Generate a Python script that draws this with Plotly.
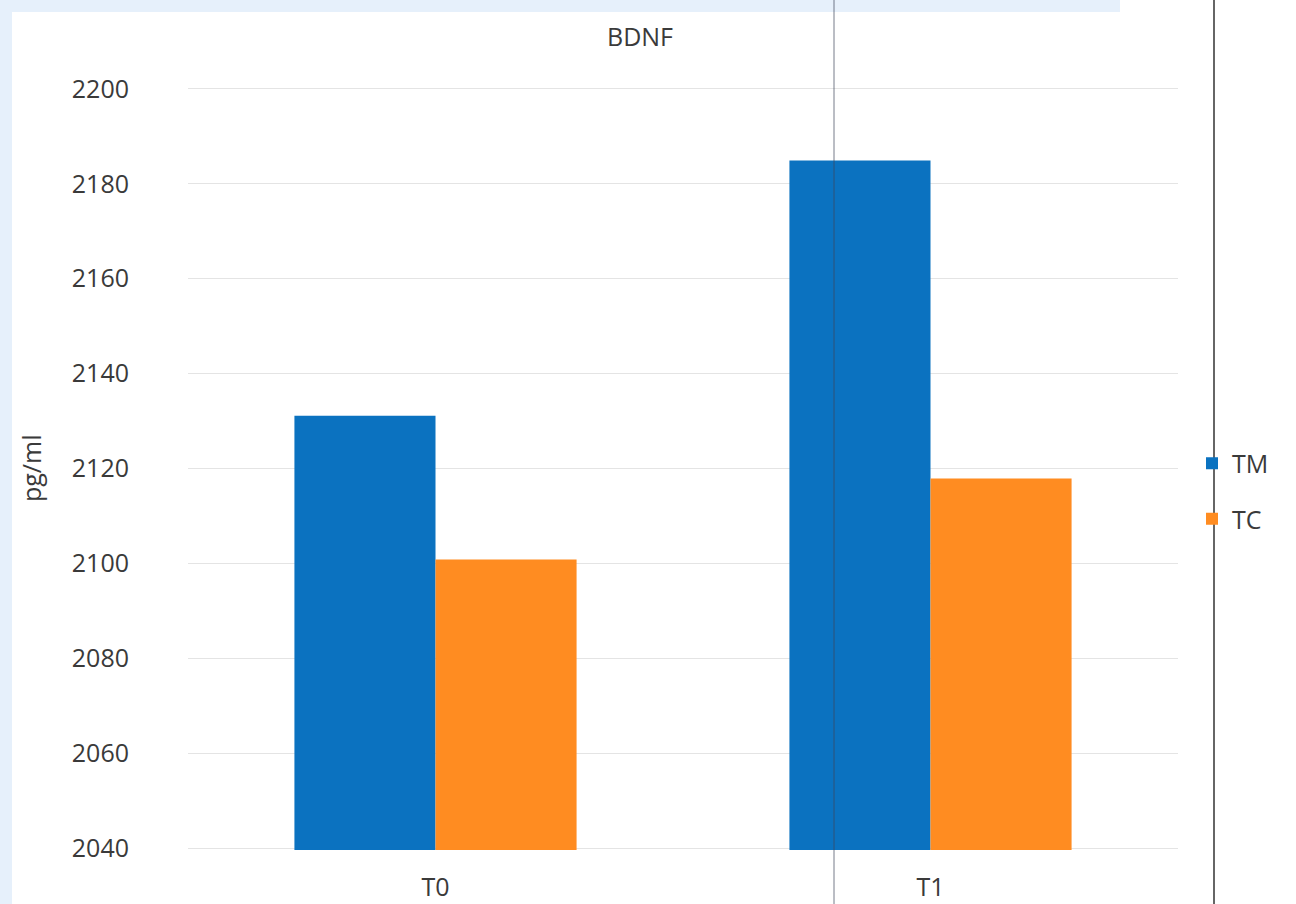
import plotly.graph_objects as go

categories = ["T0", "T1"]
tm_values = [2131.1, 2184.9]
tc_values = [2100.8, 2117.9]
series_names = ["TM", "TC"]
tick_values = [2040, 2060, 2080, 2100, 2120, 2140, 2160, 2180, 2200]

BLUE = "#0B72C0"
ORANGE = "#FF8C21"
FONT = "Open Sans"
TXT = "#3a3a3a"

fig = go.Figure()
fig.add_trace(go.Bar(x=categories, y=tm_values, name=series_names[0],
                     marker=dict(color=BLUE, line=dict(width=0)),
                     legendgroup="a"))
fig.add_trace(go.Bar(x=categories, y=tc_values, name=series_names[1],
                     marker=dict(color=ORANGE, line=dict(width=0)),
                     legendgroup="b"))

L, R, T, B = 188, 118, 86, 54
W, H = 1296, 904
pw = W - L - R
ph = H - T - B

def px2paper(px):
    return (px - L) / pw

def py2paper(py):
    return 1 - (py - T) / ph

fig.update_layout(
    width=W, height=H,
    margin=dict(l=L, r=R, t=T, b=B, autoexpand=False),
    paper_bgcolor="white", plot_bgcolor="white",
    barmode="group", bargap=0.43, bargroupgap=0,
    font=dict(family=FONT, color=TXT),
    title=dict(text="BDNF", x=640 / W, xanchor="center", y=1 - 37 / H,
               yanchor="middle", font=dict(size=25, color=TXT, family=FONT)),
    legend=dict(x=px2paper(1192), xanchor="left", y=py2paper(491), yanchor="middle",
                font=dict(size=25, color=TXT), tracegroupgap=20,
                bgcolor="rgba(0,0,0,0)", itemwidth=30),
    showlegend=True,
)
fig.update_yaxes(range=[2039.6, 2200.6], tickvals=tick_values, automargin=False,
                 showgrid=True, gridcolor="#e4e4e4", gridwidth=1,
                 zeroline=False, showline=False,
                 tickfont=dict(size=25, color=TXT), ticklabelstandoff=58)
fig.update_xaxes(showgrid=False, showline=False, zeroline=False, automargin=False,
                 tickfont=dict(size=25, color=TXT), ticklabelstandoff=20)

fig.add_annotation(text="pg/ml", xref="paper", yref="paper",
                   x=px2paper(31), y=py2paper(468), xanchor="center", yanchor="middle",
                   textangle=-90, showarrow=False, font=dict(size=25, color=TXT))

# scan frame / artifacts
shapes = []
shapes.append(dict(type="rect", xref="paper", yref="paper", layer="below",
                   x0=px2paper(0), x1=px2paper(1120), y0=py2paper(12), y1=py2paper(0),
                   fillcolor="#e6f0fb", line=dict(width=0)))
shapes.append(dict(type="rect", xref="paper", yref="paper", layer="below",
                   x0=px2paper(0), x1=px2paper(12), y0=py2paper(H), y1=py2paper(0),
                   fillcolor="#e6f0fb", line=dict(width=0)))
shapes.append(dict(type="line", xref="paper", yref="paper", layer="above",
                   x0=px2paper(834), x1=px2paper(834), y0=py2paper(H), y1=py2paper(0),
                   line=dict(color="rgba(60,70,90,0.7)", width=1)))
shapes.append(dict(type="line", xref="paper", yref="paper", layer="above",
                   x0=px2paper(1214), x1=px2paper(1214), y0=py2paper(H), y1=py2paper(0),
                   line=dict(color="#333", width=1.5)))
fig.update_layout(shapes=shapes)

fig.write_html("out.html")
